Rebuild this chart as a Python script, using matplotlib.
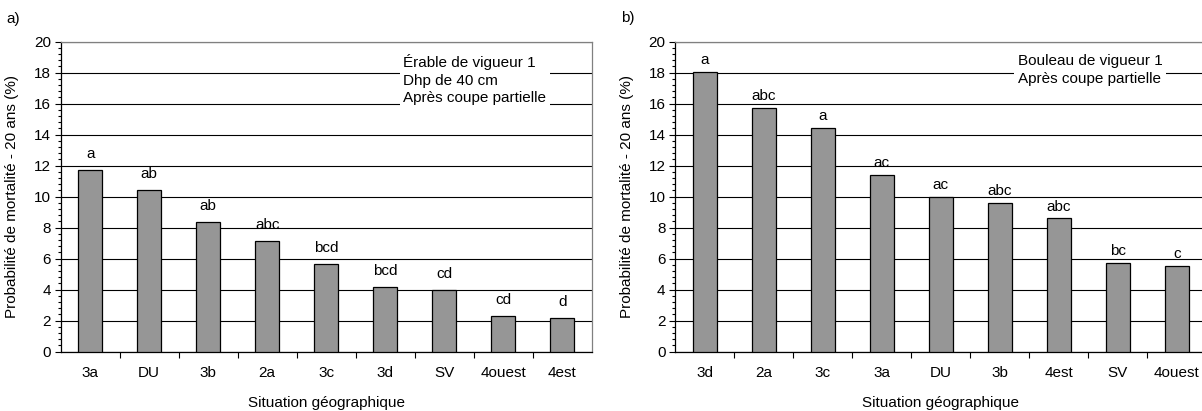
import matplotlib
matplotlib.use('Agg')
from matplotlib import pyplot as plt
from matplotlib.ticker import MultipleLocator

plt.rcParams['font.family'] = ['Liberation Sans', 'DejaVu Sans']
plt.rcParams['font.size'] = 11

# panel a) - erable
sites_a = ['3a', 'DU', '3b', '2a', '3c', '3d', 'SV', '4ouest', '4est']
prob_a = [11.75, 10.45, 8.35, 7.15, 5.65, 4.2, 4.0, 2.3, 2.2]
groups_a = ['a', 'ab', 'ab', 'abc', 'bcd', 'bcd', 'cd', 'cd', 'd']
note_a = 'Érable de vigueur 1\nDhp de 40 cm\nAprès coupe partielle'

# panel b) - bouleau
sites_b = ['3d', '2a', '3c', '3a', 'DU', '3b', '4est', 'SV', '4ouest']
prob_b = [18.05, 15.7, 14.45, 11.4, 10.0, 9.6, 8.6, 5.75, 5.55]
groups_b = ['a', 'abc', 'a', 'ac', 'ac', 'abc', 'abc', 'bc', 'c']
note_b = 'Bouleau de vigueur 1\nAprès coupe partielle'


def draw_panel(ax, sites, values, groups, note, letter_offset):
    x = range(len(sites))
    ax.bar(x, values, width=0.41, color='#969696', edgecolor='black',
           linewidth=0.9, zorder=3)
    for xi, v, g in zip(x, values, groups):
        ax.annotate(g, (xi, v), xytext=(0, letter_offset), textcoords='offset points',
                    ha='center', va='bottom', zorder=4)

    ax.set_xlim(-0.5, len(sites) - 0.5)
    ax.set_ylim(0, 20)
    ax.yaxis.set_major_locator(MultipleLocator(2))
    ax.yaxis.set_minor_locator(MultipleLocator(0.4))
    ax.set_yticks(range(0, 21, 2))
    ax.set_xticks(list(x))
    ax.set_xticklabels(sites)
    # ticks between the categories
    ax.set_xticks([i + 0.5 for i in range(len(sites) - 1)], minor=True)
    ax.tick_params(axis='x', which='major', length=0, pad=10.5)
    ax.tick_params(axis='x', which='minor', length=4, width=0.8, color='black')
    ax.tick_params(axis='y', which='major', length=4, width=0.8, pad=3)
    ax.tick_params(axis='y', which='minor', length=2.5, width=0.8)

    ax.grid(axis='y', which='major', color='black', linewidth=0.8, zorder=1)
    ax.set_axisbelow(True)
    for side in ['top', 'right']:
        ax.spines[side].set_color('#808080')
        ax.spines[side].set_linewidth(0.9)
    for side in ['left', 'bottom']:
        ax.spines[side].set_color('black')
        ax.spines[side].set_linewidth(0.9)

    ax.set_xlabel('Situation géographique', labelpad=11.5)
    ax.set_ylabel('Probabilité de mortalité - 20 ans (%)')
    ax.yaxis.set_label_coords(-0.078, 0.5)

    ax.text(0.645, 0.96, note, transform=ax.transAxes, ha='left', va='top',
            linespacing=1.32, zorder=5,
            bbox=dict(facecolor='white', edgecolor='none', pad=2.5))


fig = plt.figure(figsize=(12.02, 4.11), dpi=100)
ax_a = fig.add_axes([60.7 / 1202, 0.1443, 531 / 1202, 0.7543])
ax_b = fig.add_axes([675.3 / 1202, 0.1443, 531 / 1202, 0.7543])

draw_panel(ax_a, sites_a, prob_a, groups_a, note_a, 6.5)
draw_panel(ax_b, sites_b, prob_b, groups_b, note_b, 3.5)

fig.text(6 / 1202, 1 - 19 / 411, 'a)', ha='left', va='center')
fig.text(621 / 1202, 1 - 18 / 411, 'b)', ha='left', va='center')

fig.savefig('out.png', dpi=100)
